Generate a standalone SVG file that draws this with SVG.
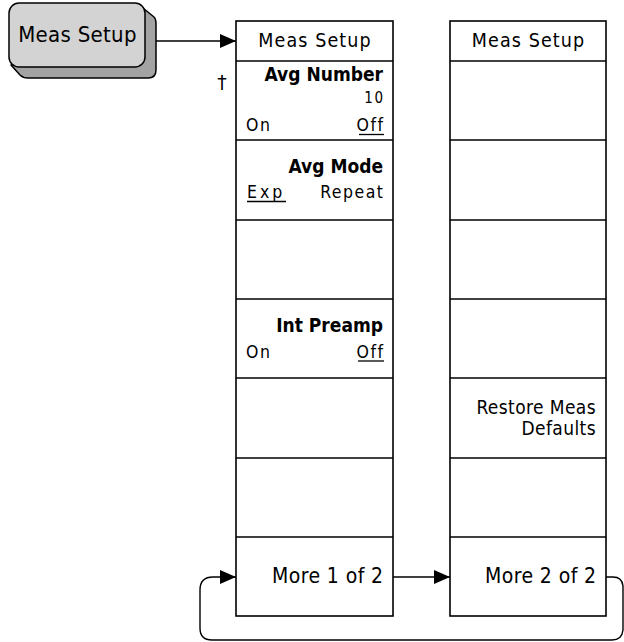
<svg xmlns="http://www.w3.org/2000/svg" width="624" height="642" viewBox="0 0 624 642">
<style>
.box{fill:#fff;stroke:#000;stroke-width:1.6}
.sep{stroke:#000;stroke-width:1.6}
.conn{fill:none;stroke:#000;stroke-width:1.4}
.t{font-family:"DejaVu Sans Condensed","DejaVu Sans","Liberation Sans",sans-serif;fill:#000}
.hd{font-size:19.5px;text-anchor:middle;letter-spacing:1.1px}
.b{font-size:19px;font-weight:bold;text-anchor:end}
.r{font-size:17.5px;text-anchor:end;letter-spacing:1.5px}
.l{font-size:17.5px;letter-spacing:1.5px}
.m{font-size:21px;text-anchor:end;letter-spacing:0.4px}
.ul{stroke:#000;stroke-width:1.3}
</style>
<defs>
<marker id="ah" markerWidth="16" markerHeight="16" refX="16" refY="8" orient="auto" markerUnits="userSpaceOnUse">
<path d="M0,1 L16,8 L0,15 Z" fill="#000"/>
</marker>
</defs>

<g id="button-meas-setup">
<path d="M138,4 L154,17 Q156,19 156,24 V70 Q156,78 148,78 H28 Q23,78 20,75 L11,65 Z" fill="#a3a3a3" stroke="#000" stroke-width="1.5" stroke-linejoin="round"/>
<rect x="9" y="3" width="136" height="64" rx="10" fill="#d3d3d3" stroke="#000" stroke-width="1.5"/>
<text class="t" x="77.5" y="42" font-size="22" text-anchor="middle" letter-spacing="0.3">Meas Setup</text>
</g>

<g id="menu1">
<rect class="box" x="236" y="21" width="157" height="595"/>
<line class="sep" x1="236" y1="61" x2="393" y2="61"/>
<line class="sep" x1="236" y1="140" x2="393" y2="140"/>
<line class="sep" x1="236" y1="220" x2="393" y2="220"/>
<line class="sep" x1="236" y1="299" x2="393" y2="299"/>
<line class="sep" x1="236" y1="378" x2="393" y2="378"/>
<line class="sep" x1="236" y1="458" x2="393" y2="458"/>
<line class="sep" x1="236" y1="537" x2="393" y2="537"/>
<text class="t hd" x="315" y="47">Meas Setup</text>
<text x="222" y="89" font-family="DejaVu Sans, sans-serif" font-size="19" fill="#000" text-anchor="middle">†</text>
<g id="avg-number">
<text class="t b" x="383" y="81">Avg Number</text>
<text class="t r" x="384.5" y="103" style="font-size:15px">10</text>
<text class="t l" x="246" y="131">On</text>
<text class="t r" x="384.5" y="131">Off</text>
<line class="ul" x1="359" y1="134.5" x2="384" y2="134.5"/>
</g>
<g id="avg-mode">
<text class="t b" x="383" y="173">Avg Mode</text>
<text class="t l" x="247" y="198" style="letter-spacing:3px">Exp</text>
<line class="ul" x1="247" y1="201.5" x2="286" y2="201.5"/>
<text class="t r" x="384.5" y="198">Repeat</text>
</g>
<g id="int-preamp">
<text class="t b" x="383" y="332">Int Preamp</text>
<text class="t l" x="246" y="358">On</text>
<text class="t r" x="384.5" y="358">Off</text>
<line class="ul" x1="358" y1="361" x2="384" y2="361"/>
</g>
<g id="more-1-of-2">
<text class="t m" x="383.5" y="583">More 1 of 2</text>
</g>
</g>

<g id="menu2">
<rect class="box" x="450" y="21" width="156" height="595"/>
<line class="sep" x1="450" y1="61" x2="606" y2="61"/>
<line class="sep" x1="450" y1="140" x2="606" y2="140"/>
<line class="sep" x1="450" y1="220" x2="606" y2="220"/>
<line class="sep" x1="450" y1="299" x2="606" y2="299"/>
<line class="sep" x1="450" y1="378" x2="606" y2="378"/>
<line class="sep" x1="450" y1="458" x2="606" y2="458"/>
<line class="sep" x1="450" y1="537" x2="606" y2="537"/>
<text class="t hd" x="528.5" y="47">Meas Setup</text>
<g id="restore-meas-defaults">
<text class="t m" x="596" y="414" style="font-size:19px">Restore Meas</text>
<text class="t m" x="596" y="435" style="font-size:19px">Defaults</text>
</g>
<g id="more-2-of-2">
<text class="t m" x="596.5" y="583">More 2 of 2</text>
</g>
</g>

<g id="connectors">
<path class="conn" d="M156,41 H236" marker-end="url(#ah)"/>
<path class="conn" d="M393,577 H450" marker-end="url(#ah)"/>
<path class="conn" d="M606,577 H613 Q622,577 623,586 V630 Q622,640 612,640 H212 Q200,640 200,628 V590 Q200,577 213,577 H236" marker-end="url(#ah)"/>
</g>
</svg>
